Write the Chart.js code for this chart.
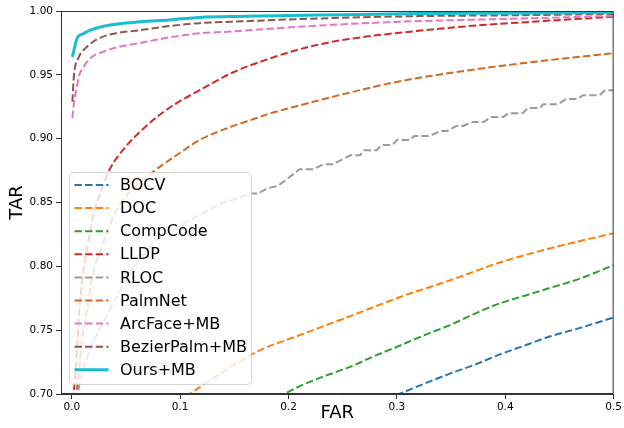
<!DOCTYPE html>
<html>
<head>
<meta charset="utf-8">
<script src="https://cdn.jsdelivr.net/npm/chart.js@4.4.1/dist/chart.umd.min.js"></script>
<style>
  html, body { margin: 0; padding: 0; background: #fff; }
  #wrap { width: 624px; height: 428px; }
</style>
</head>
<body>
<div id="wrap"><canvas id="roc"></canvas></div>
<script>
/* ROC curves: TAR vs FAR */

const X_TICKS = [0.0, 0.1, 0.2, 0.3, 0.4, 0.5];
const Y_TICKS = [0.70, 0.75, 0.80, 0.85, 0.90, 0.95, 1.00];

const BOCV_FAR = [0.290, 0.302, 0.325, 0.349, 0.372, 0.395, 0.418, 0.441, 0.470, 0.500];
const BOCV_TAR = [0.6965, 0.700, 0.708, 0.716, 0.723, 0.731, 0.738, 0.745, 0.752, 0.760];

const DOC_FAR = [0.105, 0.130, 0.150, 0.173, 0.210, 0.257, 0.303, 0.349, 0.395, 0.441, 0.500];
const DOC_TAR = [0.698, 0.712, 0.723, 0.734, 0.746, 0.761, 0.776, 0.789, 0.803, 0.814, 0.826];

const COMP_FAR = [0.190, 0.196, 0.210, 0.230, 0.256, 0.280, 0.303, 0.325, 0.349, 0.372, 0.395, 0.418, 0.441, 0.471, 0.500];
const COMP_TAR = [0.697, 0.700, 0.706, 0.713, 0.721, 0.730, 0.738, 0.746, 0.754, 0.763, 0.771, 0.777, 0.783, 0.791, 0.801];

const LLDP_FAR = [0.001, 0.003, 0.005, 0.007, 0.010, 0.015, 0.020, 0.027, 0.035, 0.050, 0.065, 0.080, 0.097, 0.118, 0.149, 0.180, 0.210, 0.241, 0.272, 0.303, 0.364, 0.425, 0.500];
const LLDP_TAR = [0.695, 0.713, 0.740, 0.766, 0.792, 0.818, 0.841, 0.859, 0.876, 0.894, 0.907, 0.918, 0.928, 0.938, 0.952, 0.962, 0.970, 0.976, 0.980, 0.983, 0.988, 0.9916, 0.9955];

const RLOC_FAR = [0.004, 0.006, 0.010, 0.019, 0.035, 0.054, 0.063, 0.078, 0.109, 0.139,
                  0.149, 0.164, 0.172, 0.180, 0.190, 0.198, 0.210, 0.223, 0.232, 0.241,
                  0.257, 0.266, 0.270, 0.281, 0.286, 0.296, 0.300, 0.312, 0.316, 0.330,
                  0.340, 0.346, 0.355, 0.361, 0.370, 0.380, 0.387, 0.398, 0.403, 0.416,
                  0.421, 0.432, 0.435, 0.449, 0.456, 0.466, 0.472, 0.487, 0.492, 0.500];
const RLOC_TAR = [0.695, 0.703, 0.719, 0.740, 0.766, 0.795, 0.806, 0.821, 0.836, 0.850,
                  0.852, 0.857, 0.857, 0.861, 0.863, 0.868, 0.876, 0.876, 0.880, 0.880,
                  0.887, 0.887, 0.891, 0.891, 0.895, 0.895, 0.899, 0.899, 0.902, 0.902,
                  0.906, 0.906, 0.910, 0.910, 0.913, 0.913, 0.917, 0.917, 0.920, 0.920,
                  0.924, 0.924, 0.927, 0.927, 0.931, 0.931, 0.934, 0.934, 0.938, 0.938];

const PALM_FAR = [0.003, 0.006, 0.009, 0.014, 0.019, 0.029, 0.040, 0.051, 0.075, 0.100, 0.118, 0.149, 0.170, 0.180, 0.210, 0.256, 0.303, 0.370, 0.425, 0.500];
const PALM_TAR = [0.695, 0.713, 0.740, 0.766, 0.792, 0.818, 0.842, 0.856, 0.874, 0.889, 0.899, 0.910, 0.916, 0.919, 0.926, 0.936, 0.945, 0.954, 0.960, 0.967];

const ARC_FAR = [0.0005, 0.002, 0.004, 0.007, 0.010, 0.017, 0.032, 0.044, 0.063, 0.088, 0.118, 0.149, 0.210, 0.303, 0.400, 0.500];
const ARC_TAR = [0.916, 0.928, 0.938, 0.950, 0.955, 0.963, 0.969, 0.972, 0.975, 0.979, 0.9825, 0.984, 0.9877, 0.9916, 0.9938, 0.9961];

const BEZ_FAR = [0.0005, 0.002, 0.006, 0.014, 0.026, 0.044, 0.063, 0.088, 0.118, 0.160, 0.210, 0.321, 0.400, 0.500];
const BEZ_TAR = [0.929, 0.950, 0.963, 0.972, 0.979, 0.983, 0.985, 0.988, 0.9905, 0.992, 0.9937, 0.996, 0.9966, 0.9977];

const OURS_FAR = [0.0005, 0.005, 0.010, 0.017, 0.035, 0.063, 0.090, 0.118, 0.160, 0.229, 0.321, 0.400, 0.500];
const OURS_TAR = [0.964, 0.979, 0.982, 0.985, 0.989, 0.9915, 0.993, 0.995, 0.9958, 0.9968, 0.998, 0.9983, 0.9988];

const SERIES = [
  { label: 'BOCV',          far: BOCV_FAR, tar: BOCV_TAR, color: '#1f77b4' },
  { label: 'DOC',           far: DOC_FAR,  tar: DOC_TAR,  color: '#ff7f0e' },
  { label: 'CompCode',      far: COMP_FAR, tar: COMP_TAR, color: '#2ca02c' },
  { label: 'LLDP',          far: LLDP_FAR, tar: LLDP_TAR, color: '#d62728' },
  { label: 'RLOC',          far: RLOC_FAR, tar: RLOC_TAR, color: '#9a9a9a', steps: true },
  { label: 'PalmNet',       far: PALM_FAR, tar: PALM_TAR, color: '#d2691e' },
  { label: 'ArcFace+MB',    far: ARC_FAR,  tar: ARC_TAR,  color: '#e377c2' },
  { label: 'BezierPalm+MB', far: BEZ_FAR,  tar: BEZ_TAR,  color: '#8c564b' },
  { label: 'Ours+MB',       far: OURS_FAR, tar: OURS_TAR, color: '#17becf', solid: true },
];

const FONT = 'DejaVu Sans';
const AXIS_COLOR = '#333333';
const DASH = [7.4, 3.2];

/* frame on all four sides */
const framePlugin = {
  id: 'frame',
  afterDraw(chart) {
    const { ctx, chartArea: a } = chart;
    ctx.save();
    ctx.strokeStyle = AXIS_COLOR;
    ctx.lineWidth = 1;
    ctx.strokeRect(a.left + 0.5, a.top + 0.5, a.right - a.left - 1, a.bottom - a.top - 1);
    ctx.restore();
  },
};

/* legend inside the plot, lower left, semi-transparent box */
const legendPlugin = {
  id: 'innerLegend',
  afterDatasetsDraw(chart) {
    const { ctx, chartArea: a } = chart;
    const x = a.left + 8.5, y = 172.5, w = 182, h = 212, r = 4;
    ctx.save();
    ctx.beginPath();
    ctx.roundRect(x, y, w, h, r);
    ctx.fillStyle = 'rgba(255,255,255,0.8)';
    ctx.fill();
    ctx.strokeStyle = 'rgba(204,204,204,0.8)';
    ctx.lineWidth = 1;
    ctx.stroke();

    ctx.font = `16px "${FONT}"`;
    ctx.textBaseline = 'middle';
    SERIES.forEach((s, i) => {
      const cy = y + 12.5 + i * 23.1;
      ctx.beginPath();
      ctx.strokeStyle = s.color;
      ctx.lineWidth = s.solid ? 3 : 2;
      ctx.setLineDash(s.solid ? [] : DASH);
      ctx.moveTo(x + 5, cy);
      ctx.lineTo(x + 39, cy);
      ctx.stroke();
      ctx.setLineDash([]);
      ctx.fillStyle = '#000';
      ctx.fillText(s.label, x + 50.5, cy + 1);
    });
    ctx.restore();
  },
};

const datasets = SERIES.map((s, i) => ({
  label: s.label,
  data: s.far.map((f, j) => ({ x: f, y: s.tar[j] })),
  borderColor: s.color,
  backgroundColor: s.color,
  borderWidth: s.solid ? 3 : 2,
  borderDash: s.solid ? [] : DASH,
  pointRadius: 0,
  cubicInterpolationMode: s.steps ? 'default' : 'monotone',
  tension: 0,
  fill: false,
  clip: 0,
  order: SERIES.length - i,
}));

new Chart(document.getElementById('roc'), {
  type: 'line',
  data: { datasets },
  options: {
    responsive: true,
    maintainAspectRatio: false,
    animation: false,
    layout: { padding: { top: 11, right: 10, left: 0, bottom: 0 } },
    plugins: { legend: { display: false }, tooltip: { enabled: false } },
    scales: {
      x: {
        type: 'linear',
        min: -0.01, max: 0.5,
        afterBuildTicks: axis => { axis.ticks = X_TICKS.map(v => ({ value: v })); },
        afterFit: axis => { axis.height = 34; },
        ticks: { color: '#000', font: { family: FONT, size: 10.5 }, padding: 2, callback: v => v.toFixed(1) },
        grid: { drawOnChartArea: false, drawTicks: true, tickLength: 5, color: AXIS_COLOR },
        border: { display: true, color: AXIS_COLOR, width: 1 },
        title: { display: true, text: 'FAR', color: '#000', font: { family: FONT, size: 18 }, padding: { top: 0, bottom: 4 } },
      },
      y: {
        min: 0.70, max: 1.00,
        afterBuildTicks: axis => { axis.ticks = Y_TICKS.map(v => ({ value: v })); },
        afterFit: axis => { axis.width = 61; },
        ticks: { color: '#000', font: { family: FONT, size: 10.5 }, padding: 3, callback: v => v.toFixed(2) },
        grid: { drawOnChartArea: false, drawTicks: true, tickLength: 5, color: AXIS_COLOR },
        border: { display: true, color: AXIS_COLOR, width: 1 },
        title: { display: true, text: 'TAR', color: '#000', font: { family: FONT, size: 18 }, padding: { top: 7, bottom: 0 } },
      },
    },
  },
  plugins: [legendPlugin, framePlugin],
});
</script>
</body>
</html>
